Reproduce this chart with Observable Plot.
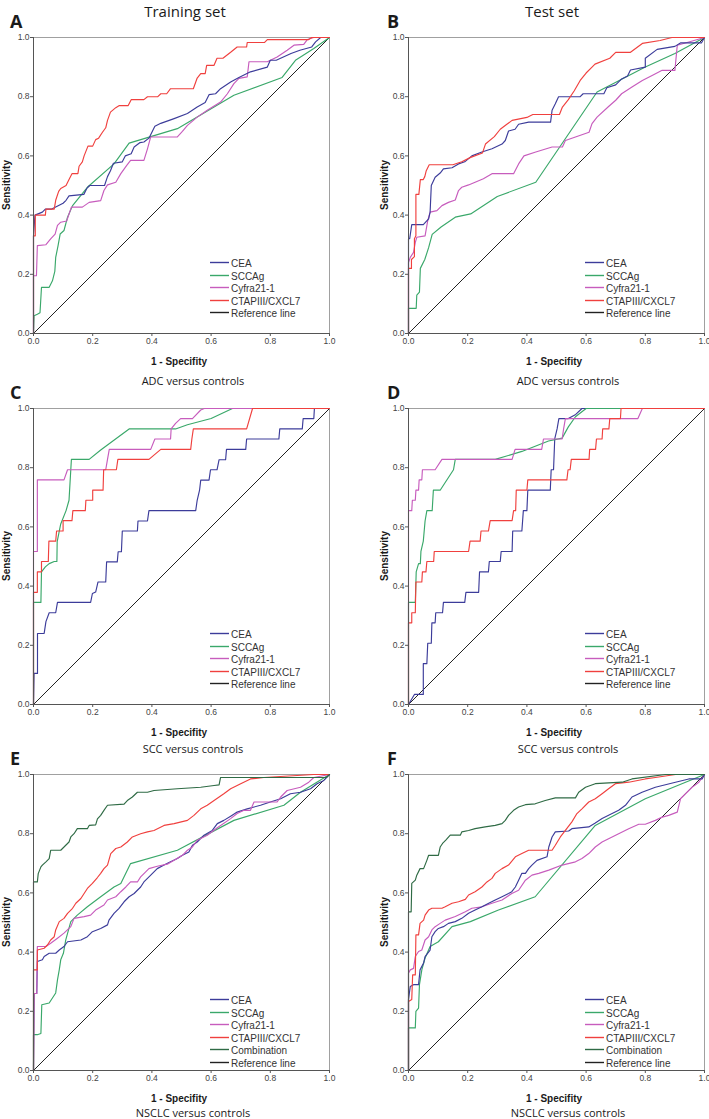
<!DOCTYPE html>
<html><head><meta charset="utf-8">
<script src="https://cdn.jsdelivr.net/npm/d3@7"></script>
<script src="https://cdn.jsdelivr.net/npm/@observablehq/plot@0.6"></script>
<style>
body{margin:0;background:#fff;}
#root{position:relative;width:709px;height:1119px;overflow:hidden;background:#fff;}
.t{position:absolute;white-space:nowrap;color:#1a1a1a;line-height:1.1;}
.title{font:15px "Open Sans",sans-serif;transform:translate(-50%,-50%);}
.letter{font:bold 18px "Open Sans",sans-serif;transform:translate(0,-50%);}
.cap{font:11px "Open Sans",sans-serif;transform:translate(-50%,-50%);}
.xl{font:bold 10px "Liberation Sans",Arial,sans-serif;transform:translate(-50%,-50%);}
.yl{font:bold 10px "Liberation Sans",Arial,sans-serif;transform:translate(-50%,-50%) rotate(-90deg);}
.lg{position:absolute;font:10px "Liberation Sans",Arial,sans-serif;color:#333;white-space:nowrap;}
.lg svg{position:absolute;left:0;top:0;overflow:visible;}
.lg .tx{position:absolute;transform:translate(0,-50%);}
.pl{position:absolute;}
</style></head>
<body><div id="root"></div>
<script>
// ---------- data ----------
const ticks = [0, 0.2, 0.4, 0.6, 0.8, 1.0];
const names = ["CEA", "SCCAg", "Cyfra21-1", "CTAPIII/CXCL7", "Combination", "Reference line"];
const colors = ["#3c3c9a", "#3aa86a", "#c75cbd", "#f0403e", "#2f6b45", "#222222"];
const columnTitles = ["Training set", "Test set"];
const captions = ["ADC versus controls", "SCC versus controls", "NSCLC versus controls"];
const reference = [[0, 0], [1, 1]];

// Panel A (training, ADC)
const A_CEA = [[0,0],[0,0.33],[0.005,0.40],[0.03,0.41],[0.04,0.42],[0.06,0.42],[0.08,0.43],[0.10,0.44],[0.11,0.45],[0.12,0.465],[0.17,0.47],[0.18,0.49],[0.19,0.50],[0.24,0.50],[0.25,0.53],[0.26,0.55],[0.27,0.575],[0.30,0.58],[0.31,0.60],[0.33,0.607],[0.34,0.63],[0.36,0.645],[0.373,0.647],[0.39,0.66],[0.41,0.70],[0.43,0.71],[0.475,0.726],[0.52,0.743],[0.553,0.765],[0.58,0.78],[0.593,0.807],[0.615,0.81],[0.632,0.827],[0.666,0.85],[0.694,0.865],[0.733,0.884],[0.79,0.90],[0.80,0.923],[0.82,0.923],[0.87,0.946],[0.9,0.957],[0.94,0.968],[0.953,0.985],[0.97,1],[1,1]];
const A_SCC = [[0,0],[0.002,0.06],[0.013,0.065],[0.022,0.07],[0.027,0.156],[0.053,0.156],[0.064,0.178],[0.072,0.21],[0.075,0.257],[0.083,0.297],[0.09,0.336],[0.103,0.348],[0.115,0.393],[0.132,0.432],[0.182,0.494],[0.272,0.573],[0.323,0.643],[0.486,0.692],[0.677,0.805],[0.84,0.865],[0.885,0.923],[0.947,0.963],[1,1]];
const A_CYF = [[0,0],[0,0.195],[0.01,0.195],[0.013,0.297],[0.042,0.30],[0.058,0.32],[0.073,0.336],[0.081,0.365],[0.092,0.376],[0.112,0.38],[0.128,0.427],[0.165,0.427],[0.188,0.443],[0.227,0.449],[0.238,0.483],[0.25,0.502],[0.278,0.511],[0.295,0.54],[0.315,0.568],[0.328,0.585],[0.373,0.585],[0.385,0.624],[0.396,0.664],[0.486,0.664],[0.503,0.683],[0.52,0.703],[0.553,0.731],[0.587,0.754],[0.632,0.782],[0.655,0.81],[0.677,0.844],[0.694,0.862],[0.722,0.867],[0.728,0.918],[0.79,0.918],[0.823,0.934],[0.857,0.957],[0.88,0.974],[0.913,0.977],[0.925,0.993],[0.947,1],[1,1]];
const A_CTAP = [[0,0],[0,0.33],[0.006,0.33],[0.006,0.40],[0.04,0.40],[0.042,0.42],[0.07,0.42],[0.075,0.45],[0.085,0.48],[0.092,0.49],[0.11,0.50],[0.12,0.52],[0.13,0.54],[0.15,0.54],[0.154,0.565],[0.165,0.58],[0.171,0.60],[0.184,0.633],[0.2,0.633],[0.21,0.655],[0.22,0.66],[0.233,0.68],[0.244,0.695],[0.25,0.72],[0.26,0.748],[0.278,0.763],[0.29,0.77],[0.32,0.77],[0.33,0.79],[0.373,0.79],[0.385,0.80],[0.42,0.80],[0.43,0.81],[0.45,0.81],[0.463,0.827],[0.54,0.827],[0.553,0.863],[0.565,0.878],[0.58,0.878],[0.585,0.906],[0.61,0.906],[0.62,0.93],[0.64,0.93],[0.666,0.95],[0.688,0.968],[0.72,0.968],[0.722,0.983],[0.78,0.983],[0.79,0.993],[0.93,0.993],[0.94,1],[1,1]];

// Panel B (test, ADC)
const B_CEA = [[0,0],[0,0.32],[0.004,0.32],[0.011,0.368],[0.05,0.368],[0.068,0.387],[0.073,0.41],[0.077,0.50],[0.09,0.528],[0.107,0.542],[0.118,0.556],[0.147,0.56],[0.169,0.573],[0.19,0.58],[0.214,0.60],[0.248,0.613],[0.282,0.624],[0.316,0.64],[0.327,0.652],[0.338,0.684],[0.36,0.69],[0.372,0.707],[0.406,0.714],[0.48,0.714],[0.485,0.754],[0.496,0.776],[0.507,0.80],[0.58,0.80],[0.59,0.81],[0.66,0.81],[0.67,0.83],[0.70,0.84],[0.72,0.86],[0.74,0.87],[0.75,0.89],[0.80,0.90],[0.80,0.93],[0.84,0.96],[0.90,0.97],[0.92,0.982],[0.99,0.982],[1,1]];
const B_SCC = [[0,0],[0,0.085],[0.026,0.085],[0.028,0.13],[0.037,0.14],[0.04,0.22],[0.055,0.25],[0.068,0.29],[0.08,0.335],[0.11,0.36],[0.158,0.393],[0.21,0.404],[0.30,0.463],[0.43,0.511],[0.637,0.816],[0.80,0.90],[0.90,0.946],[1,1]];
const B_CYF = [[0,0],[0,0.24],[0.006,0.257],[0.017,0.274],[0.023,0.308],[0.028,0.325],[0.056,0.33],[0.065,0.381],[0.073,0.41],[0.096,0.415],[0.113,0.432],[0.135,0.443],[0.158,0.451],[0.169,0.483],[0.18,0.494],[0.203,0.502],[0.225,0.511],[0.253,0.523],[0.282,0.54],[0.355,0.54],[0.372,0.573],[0.39,0.60],[0.43,0.613],[0.485,0.63],[0.52,0.63],[0.53,0.652],[0.564,0.664],[0.61,0.68],[0.62,0.709],[0.637,0.731],[0.676,0.767],[0.70,0.788],[0.72,0.81],[0.755,0.833],[0.79,0.855],[0.823,0.872],[0.857,0.889],[0.90,0.889],[0.908,0.974],[0.947,0.985],[1,1]];
const B_CTAP = [[0,0],[0,0.22],[0.01,0.22],[0.01,0.25],[0.02,0.26],[0.02,0.32],[0.025,0.33],[0.025,0.47],[0.035,0.47],[0.04,0.52],[0.05,0.52],[0.055,0.53],[0.06,0.55],[0.07,0.57],[0.15,0.57],[0.18,0.58],[0.21,0.595],[0.25,0.61],[0.26,0.64],[0.29,0.665],[0.31,0.69],[0.33,0.705],[0.35,0.72],[0.40,0.73],[0.42,0.74],[0.51,0.74],[0.52,0.765],[0.54,0.79],[0.56,0.82],[0.58,0.855],[0.60,0.88],[0.62,0.90],[0.63,0.91],[0.68,0.93],[0.70,0.95],[0.75,0.95],[0.79,0.98],[0.85,0.99],[0.89,1],[1,1]];

// Panel C (training, SCC)
const C_CEA = [[0,0],[0.002,0.105],[0.0135,0.105],[0.0135,0.24],[0.036,0.24],[0.042,0.28],[0.053,0.31],[0.075,0.31],[0.081,0.345],[0.193,0.345],[0.199,0.375],[0.21,0.38],[0.218,0.414],[0.244,0.414],[0.247,0.482],[0.283,0.482],[0.286,0.516],[0.297,0.516],[0.30,0.586],[0.351,0.586],[0.353,0.62],[0.385,0.62],[0.39,0.655],[0.548,0.655],[0.553,0.69],[0.561,0.724],[0.565,0.758],[0.593,0.758],[0.598,0.793],[0.62,0.793],[0.627,0.827],[0.649,0.827],[0.652,0.862],[0.717,0.862],[0.72,0.897],[0.829,0.897],[0.832,0.931],[0.908,0.931],[0.911,0.966],[0.947,0.966],[0.949,1],[1,1]];
const C_SCC = [[0,0],[0,0.345],[0.025,0.345],[0.027,0.448],[0.04,0.465],[0.053,0.476],[0.07,0.483],[0.079,0.483],[0.08,0.55],[0.092,0.61],[0.11,0.655],[0.12,0.69],[0.128,0.828],[0.188,0.828],[0.227,0.86],[0.323,0.931],[0.48,0.931],[0.52,0.945],[0.6,0.966],[0.672,1],[1,1]];
const C_CYF = [[0,0],[0,0.517],[0.013,0.517],[0.013,0.759],[0.103,0.759],[0.115,0.793],[0.244,0.793],[0.25,0.828],[0.256,0.862],[0.396,0.862],[0.41,0.897],[0.463,0.897],[0.465,0.931],[0.48,0.95],[0.497,0.966],[0.537,0.966],[0.565,0.995],[0.577,1],[1,1]];
const C_CTAP = [[0,0],[0,0.379],[0.013,0.379],[0.013,0.448],[0.027,0.448],[0.027,0.483],[0.05,0.483],[0.052,0.552],[0.075,0.552],[0.078,0.586],[0.1,0.586],[0.1,0.621],[0.13,0.621],[0.133,0.655],[0.175,0.655],[0.177,0.69],[0.2,0.69],[0.2,0.724],[0.235,0.724],[0.237,0.793],[0.28,0.793],[0.285,0.828],[0.39,0.828],[0.43,0.862],[0.531,0.862],[0.535,0.897],[0.54,0.931],[0.72,0.931],[0.74,1],[1,1]];

// Panel D (test, SCC)
const D_CEA = [[0,0],[0.02,0.034],[0.05,0.034],[0.05,0.138],[0.062,0.138],[0.065,0.207],[0.077,0.207],[0.079,0.276],[0.09,0.276],[0.092,0.31],[0.115,0.31],[0.118,0.345],[0.19,0.345],[0.194,0.379],[0.237,0.379],[0.24,0.448],[0.27,0.448],[0.273,0.483],[0.31,0.483],[0.313,0.517],[0.35,0.517],[0.352,0.586],[0.383,0.586],[0.388,0.655],[0.4,0.655],[0.403,0.724],[0.479,0.724],[0.482,0.793],[0.49,0.793],[0.494,0.897],[0.502,0.931],[0.508,0.966],[0.54,0.966],[0.565,0.98],[0.586,1],[1,1]];
const D_SCC = [[0,0],[0,0.345],[0.023,0.345],[0.026,0.448],[0.034,0.476],[0.04,0.476],[0.042,0.517],[0.05,0.552],[0.056,0.62],[0.062,0.655],[0.08,0.655],[0.084,0.724],[0.107,0.724],[0.152,0.793],[0.158,0.828],[0.293,0.828],[0.383,0.855],[0.473,0.89],[0.519,0.9],[0.54,0.938],[0.564,0.972],[0.6,1],[1,1]];
const D_CYF = [[0,0],[0,0.655],[0.011,0.655],[0.013,0.69],[0.023,0.69],[0.025,0.724],[0.034,0.724],[0.036,0.759],[0.045,0.759],[0.047,0.793],[0.09,0.793],[0.113,0.828],[0.35,0.828],[0.36,0.862],[0.45,0.862],[0.456,0.897],[0.519,0.897],[0.524,0.931],[0.53,0.966],[0.775,0.966],[0.79,1],[1,1]];
const D_CTAP = [[0,0],[0,0.276],[0.011,0.276],[0.011,0.31],[0.023,0.31],[0.025,0.414],[0.045,0.414],[0.047,0.448],[0.059,0.448],[0.062,0.483],[0.085,0.483],[0.087,0.517],[0.203,0.517],[0.208,0.552],[0.242,0.552],[0.245,0.586],[0.27,0.586],[0.276,0.621],[0.35,0.621],[0.355,0.655],[0.362,0.655],[0.364,0.724],[0.4,0.724],[0.403,0.759],[0.535,0.759],[0.539,0.793],[0.546,0.793],[0.55,0.828],[0.61,0.828],[0.612,0.862],[0.632,0.862],[0.635,0.897],[0.654,0.897],[0.656,0.931],[0.677,0.931],[0.68,0.966],[0.716,0.966],[0.718,1],[1,1]];

// Panel E (training, NSCLC)
const E_CEA = [[0,0],[0.002,0.26],[0.011,0.26],[0.013,0.368],[0.03,0.374],[0.036,0.385],[0.053,0.396],[0.075,0.396],[0.087,0.407],[0.103,0.419],[0.115,0.435],[0.16,0.441],[0.182,0.452],[0.199,0.469],[0.227,0.48],[0.25,0.492],[0.255,0.508],[0.272,0.531],[0.289,0.548],[0.306,0.57],[0.323,0.587],[0.34,0.598],[0.362,0.62],[0.373,0.637],[0.385,0.649],[0.402,0.666],[0.418,0.682],[0.441,0.694],[0.463,0.705],[0.486,0.716],[0.503,0.727],[0.525,0.738],[0.537,0.761],[0.553,0.772],[0.576,0.795],[0.604,0.811],[0.621,0.834],[0.643,0.845],[0.666,0.859],[0.688,0.873],[0.722,0.884],[0.767,0.896],[0.8,0.907],[0.835,0.918],[0.868,0.935],[0.902,0.94],[0.936,0.952],[0.958,0.969],[0.981,0.98],[1,1]];
const E_SCC = [[0,0],[0,0.121],[0.013,0.121],[0.025,0.125],[0.028,0.222],[0.053,0.228],[0.064,0.245],[0.075,0.262],[0.081,0.306],[0.087,0.34],[0.092,0.374],[0.101,0.396],[0.109,0.441],[0.126,0.503],[0.148,0.525],[0.182,0.553],[0.227,0.587],[0.272,0.62],[0.295,0.632],[0.328,0.699],[0.486,0.744],[0.677,0.845],[0.846,0.896],[0.902,0.94],[1,1]];
const E_CYF = [[0,0],[0.002,0.26],[0.011,0.26],[0.013,0.419],[0.042,0.419],[0.058,0.43],[0.081,0.447],[0.103,0.464],[0.126,0.486],[0.137,0.514],[0.171,0.52],[0.193,0.525],[0.21,0.542],[0.238,0.559],[0.25,0.576],[0.278,0.587],[0.295,0.604],[0.312,0.62],[0.328,0.637],[0.351,0.637],[0.362,0.654],[0.379,0.671],[0.39,0.682],[0.418,0.69],[0.452,0.697],[0.475,0.71],[0.503,0.727],[0.52,0.744],[0.537,0.755],[0.553,0.778],[0.587,0.795],[0.621,0.82],[0.666,0.851],[0.688,0.868],[0.711,0.879],[0.733,0.879],[0.745,0.907],[0.823,0.907],[0.835,0.924],[0.857,0.946],[0.902,0.957],[0.93,0.974],[0.947,0.99],[1,1]];
const E_CTAP = [[0,0],[0,0.34],[0.013,0.34],[0.013,0.407],[0.036,0.413],[0.047,0.424],[0.058,0.441],[0.07,0.452],[0.075,0.475],[0.087,0.503],[0.103,0.514],[0.115,0.531],[0.132,0.548],[0.143,0.565],[0.16,0.581],[0.171,0.598],[0.182,0.615],[0.199,0.632],[0.216,0.652],[0.227,0.666],[0.238,0.682],[0.25,0.694],[0.261,0.733],[0.278,0.75],[0.295,0.755],[0.317,0.772],[0.334,0.789],[0.362,0.80],[0.385,0.806],[0.407,0.811],[0.441,0.828],[0.475,0.834],[0.52,0.845],[0.542,0.862],[0.565,0.884],[0.587,0.896],[0.61,0.912],[0.643,0.935],[0.666,0.952],[0.7,0.969],[0.733,0.985],[0.778,0.99],[0.947,1],[1,1]];
const E_COMB = [[0,0],[0,0.637],[0.013,0.637],[0.016,0.665],[0.025,0.688],[0.03,0.694],[0.042,0.705],[0.053,0.716],[0.058,0.744],[0.092,0.744],[0.098,0.75],[0.109,0.761],[0.12,0.772],[0.126,0.789],[0.137,0.8],[0.148,0.817],[0.182,0.817],[0.188,0.828],[0.21,0.83],[0.216,0.85],[0.227,0.862],[0.238,0.879],[0.25,0.896],[0.306,0.9],[0.317,0.912],[0.334,0.924],[0.351,0.94],[0.385,0.94],[0.407,0.946],[0.486,0.952],[0.565,0.957],[0.61,0.963],[0.627,0.965],[0.632,0.99],[0.99,0.99],[1,1]];

// Panel F (test, NSCLC)
const F_CEA = [[0,0],[0,0.24],[0.006,0.284],[0.017,0.29],[0.034,0.29],[0.039,0.34],[0.051,0.363],[0.056,0.385],[0.073,0.407],[0.079,0.452],[0.09,0.469],[0.101,0.48],[0.118,0.486],[0.135,0.497],[0.158,0.503],[0.18,0.514],[0.203,0.531],[0.225,0.542],[0.248,0.553],[0.271,0.565],[0.293,0.576],[0.316,0.587],[0.338,0.598],[0.349,0.604],[0.361,0.62],[0.372,0.643],[0.383,0.666],[0.395,0.666],[0.406,0.682],[0.417,0.694],[0.434,0.71],[0.468,0.722],[0.474,0.755],[0.485,0.789],[0.496,0.806],[0.541,0.809],[0.552,0.817],[0.609,0.823],[0.631,0.836],[0.654,0.851],[0.676,0.862],[0.71,0.879],[0.733,0.896],[0.755,0.924],[0.789,0.94],[0.834,0.957],[0.902,0.974],[0.947,0.985],[0.992,0.985],[1,1]];
const F_SCC = [[0,0],[0,0.144],[0.023,0.144],[0.025,0.2],[0.034,0.211],[0.037,0.29],[0.045,0.34],[0.056,0.38],[0.073,0.419],[0.101,0.435],[0.147,0.486],[0.209,0.503],[0.304,0.542],[0.428,0.587],[0.631,0.828],[0.8,0.918],[1,1]];
const F_CYF = [[0,0],[0,0.329],[0.006,0.34],[0.017,0.345],[0.023,0.385],[0.034,0.402],[0.045,0.407],[0.056,0.441],[0.068,0.452],[0.079,0.475],[0.09,0.486],[0.107,0.497],[0.124,0.508],[0.158,0.52],[0.192,0.536],[0.214,0.548],[0.248,0.553],[0.282,0.565],[0.316,0.576],[0.349,0.598],[0.372,0.609],[0.395,0.643],[0.417,0.66],[0.44,0.666],[0.474,0.677],[0.519,0.694],[0.564,0.705],[0.586,0.716],[0.609,0.733],[0.631,0.755],[0.654,0.772],[0.676,0.783],[0.71,0.8],[0.744,0.817],[0.778,0.832],[0.8,0.832],[0.834,0.845],[0.857,0.856],[0.879,0.862],[0.908,0.873],[0.919,0.918],[0.936,0.935],[0.958,0.957],[0.981,0.974],[1,1]];
const F_CTAP = [[0,0],[0,0.233],[0.011,0.24],[0.014,0.323],[0.023,0.323],[0.025,0.458],[0.034,0.458],[0.039,0.497],[0.051,0.508],[0.056,0.525],[0.068,0.542],[0.079,0.548],[0.113,0.548],[0.124,0.553],[0.147,0.565],[0.169,0.57],[0.192,0.578],[0.203,0.593],[0.225,0.604],[0.248,0.62],[0.265,0.637],[0.282,0.649],[0.293,0.666],[0.316,0.682],[0.338,0.694],[0.361,0.722],[0.383,0.733],[0.406,0.744],[0.485,0.744],[0.496,0.761],[0.513,0.789],[0.53,0.811],[0.552,0.84],[0.569,0.868],[0.586,0.884],[0.609,0.907],[0.631,0.918],[0.654,0.935],[0.676,0.952],[0.699,0.969],[0.744,0.974],[0.8,0.985],[0.834,0.99],[0.902,1],[1,1]];
const F_COMB = [[0,0],[0,0.536],[0.009,0.536],[0.011,0.632],[0.023,0.643],[0.028,0.66],[0.039,0.682],[0.051,0.682],[0.062,0.71],[0.068,0.727],[0.101,0.727],[0.107,0.755],[0.115,0.767],[0.126,0.778],[0.141,0.795],[0.175,0.795],[0.18,0.806],[0.203,0.811],[0.225,0.817],[0.259,0.823],[0.293,0.828],[0.316,0.834],[0.327,0.845],[0.338,0.862],[0.355,0.879],[0.372,0.89],[0.395,0.898],[0.428,0.901],[0.462,0.912],[0.496,0.921],[0.564,0.921],[0.575,0.94],[0.598,0.957],[0.631,0.969],[0.722,0.974],[0.755,0.985],[0.868,1],[1,1]];

// ---------- layout ----------
const colLeft = [0, 375];
const frameTop = [37, 408, 774];
const captionOffset = [47, 44, 42];
const frameW = 296, frameH = 296, mL = 33, mT = 20, mB = 20;
const panels = [
  {letter:"A", col:0, row:0, series:[["SCCAg",A_SCC],["Cyfra21-1",A_CYF],["CEA",A_CEA],["CTAPIII/CXCL7",A_CTAP]]},
  {letter:"B", col:1, row:0, series:[["SCCAg",B_SCC],["Cyfra21-1",B_CYF],["CEA",B_CEA],["CTAPIII/CXCL7",B_CTAP]]},
  {letter:"C", col:0, row:1, series:[["CEA",C_CEA],["SCCAg",C_SCC],["Cyfra21-1",C_CYF],["CTAPIII/CXCL7",C_CTAP]]},
  {letter:"D", col:1, row:1, series:[["CEA",D_CEA],["SCCAg",D_SCC],["Cyfra21-1",D_CYF],["CTAPIII/CXCL7",D_CTAP]]},
  {letter:"E", col:0, row:2, series:[["SCCAg",E_SCC],["CEA",E_CEA],["Cyfra21-1",E_CYF],["CTAPIII/CXCL7",E_CTAP],["Combination",E_COMB]]},
  {letter:"F", col:1, row:2, series:[["SCCAg",F_SCC],["Cyfra21-1",F_CYF],["CEA",F_CEA],["CTAPIII/CXCL7",F_CTAP],["Combination",F_COMB]]}
];

const root = document.getElementById("root");
function txt(cls, s, x, y) {
  const d = document.createElement("div");
  d.className = "t " + cls; d.textContent = s;
  d.style.left = x + "px"; d.style.top = y + "px";
  root.appendChild(d); return d;
}
const SVGNS = "http://www.w3.org/2000/svg";

panels.forEach(p => {
  const fx = colLeft[p.col] + mL, fy = frameTop[p.row];
  const svgW = p.col === 0 ? 355 : 334;
  const rows = [];
  p.series.forEach(([s, pts]) => pts.forEach(([x, y], i) => rows.push({s, x, y, i})));
  const chart = Plot.plot({
    width: svgW, height: frameH + mT + mB,
    marginLeft: mL, marginRight: svgW - mL - frameW, marginTop: mT, marginBottom: mB,
    x: {domain: [0, 1]}, y: {domain: [0, 1]},
    color: {domain: names, range: colors},
    style: {fontFamily: "'Liberation Sans', Arial, sans-serif", fontSize: "8.5px", color: "#444", background: "transparent", overflow: "visible"},
    marks: [
      Plot.frame({stroke: "#a0a0a0", strokeWidth: 1}),
      Plot.line(reference, {x: d => d[0], y: d => d[1], stroke: "#222", strokeWidth: 1}),
      Plot.line(rows, {x: "x", y: "y", z: "s", stroke: "s", strokeWidth: 1.15}),
      Plot.ruleX([0], {stroke: "#555", strokeWidth: 1}),
      Plot.ruleY([0], {stroke: "#555", strokeWidth: 1}),
      Plot.axisX({ticks, tickFormat: d3.format(".1f"), tickSize: 3, tickPadding: 1, label: null, stroke: "#555"}),
      Plot.axisY({ticks, tickFormat: d3.format(".1f"), tickSize: 3, tickPadding: 1, label: null, stroke: "#555"})
    ]
  });
  chart.classList.add("pl");
  chart.style.left = colLeft[p.col] + "px";
  chart.style.top = (fy - mT) + "px";
  root.appendChild(chart);

  // texts
  const cx = fx + frameW / 2;
  txt("letter", p.letter, colLeft[p.col] + (p.col === 0 ? 10 : 12), fy - 16);
  txt("xl", "1 - Specifity", cx - 2, fy + frameH + 28);
  txt("yl", "Sensitivity", colLeft[p.col] + (p.col === 0 ? 6 : 9), fy + frameH / 2);
  txt("cap", captions[p.row], cx + 12, fy + frameH + captionOffset[p.row]);

  // legend
  const leg = document.createElement("div");
  leg.className = "lg";
  leg.style.left = (fx + 177) + "px";
  leg.style.top = (fy + 225) + "px";
  const legItems = p.series.map(d => d[0]);
  const order = names.filter(n => n === "Reference line" || legItems.includes(n));
  const svg = document.createElementNS(SVGNS, "svg");
  svg.setAttribute("width", 20); svg.setAttribute("height", 80);
  leg.appendChild(svg);
  order.forEach((n, i) => {
    const yy = Math.round(i * 12.5) + 0.5;
    const ln = document.createElementNS(SVGNS, "line");
    ln.setAttribute("x1", 0); ln.setAttribute("x2", 19);
    ln.setAttribute("y1", yy); ln.setAttribute("y2", yy);
    ln.setAttribute("stroke", colors[names.indexOf(n)]);
    ln.setAttribute("stroke-width", 1.4);
    svg.appendChild(ln);
    const tx = document.createElement("div");
    tx.className = "tx"; tx.textContent = n;
    tx.style.left = "21px"; tx.style.top = (yy + 0.5) + "px";
    leg.appendChild(tx);
  });
  root.appendChild(leg);
});

columnTitles.forEach((t, i) => txt("title", t, colLeft[i] + mL + frameW / 2 + (i === 0 ? 4 : -4), 11));
</script></body></html>
